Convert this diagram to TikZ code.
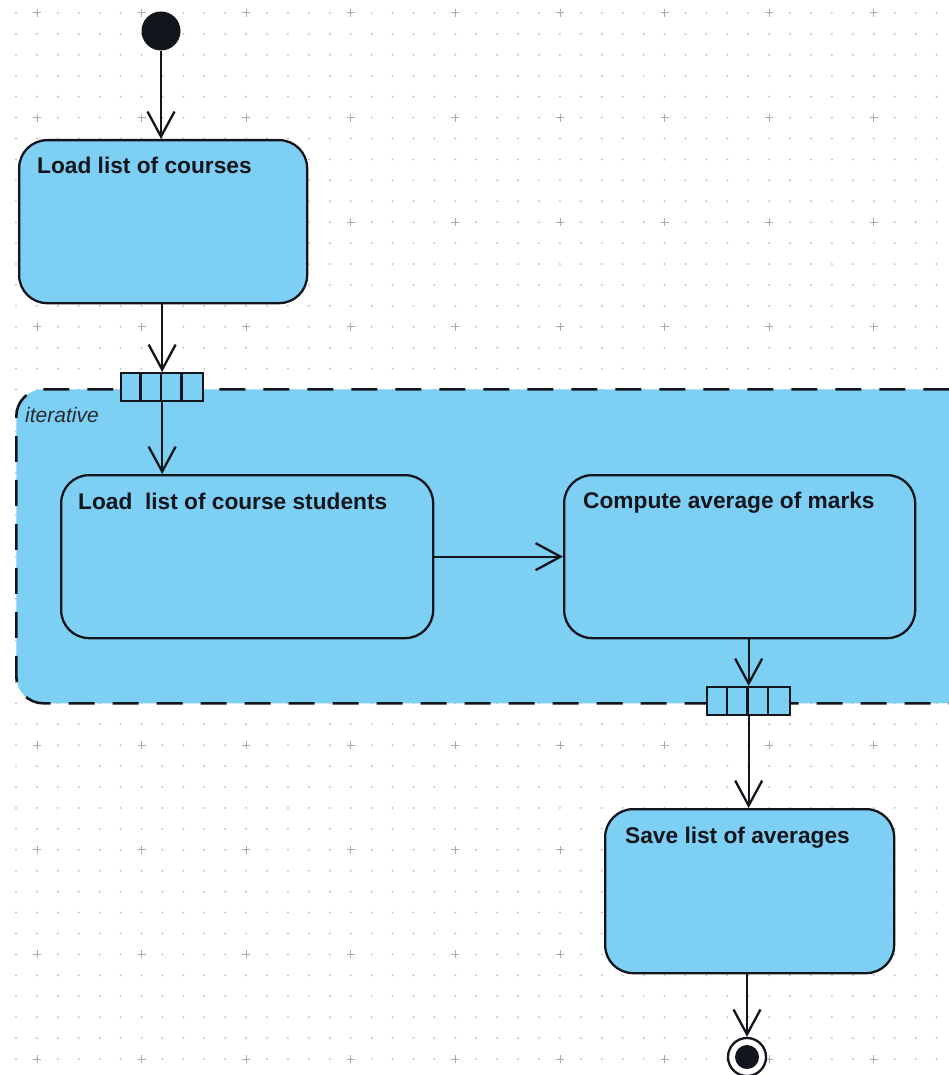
\documentclass[tikz,border=0pt]{standalone}
\usepackage{fontspec}
\setmainfont{Liberation Sans}
\usetikzlibrary{arrows.meta,calc}
\definecolor{actfill}{RGB}{125,207,243}
\definecolor{ink}{RGB}{18,22,28}
\definecolor{griddot}{RGB}{196,196,196}
\definecolor{gridcross}{RGB}{170,170,170}
\definecolor{labelgray}{RGB}{40,44,50}

\begin{document}
\begin{tikzpicture}[x=1pt,y=-1pt,
  action/.style={draw=ink, fill=actfill, line width=2.3pt, rounded corners=28pt,
                 anchor=north west, inner sep=0pt, rectangle},
  atext/.style={anchor=base west, inner sep=0pt, text=ink,
                font=\fontsize{22.7}{26}\selectfont\bfseries},
  pinbox/.style={draw=ink, fill=actfill, line width=2.3pt, anchor=north west,
                 inner sep=0pt, rectangle},
  region/.style={draw=ink, fill=actfill, line width=2.6pt, rounded corners=27pt,
                 dash pattern=on 26pt off 18pt, anchor=north west, inner sep=0pt, rectangle},
  conn/.style={draw=ink, line width=2.3pt, -{Straight Barb[length=25pt,width=27pt,line width=2.3pt]}},
  divider/.style={draw=ink, line width=2.3pt},
]
\clip (0,0) rectangle (949,1075);
\fill[white] (0,0) rectangle (949,1075);

% dotted background grid with crosses every fifth dot
\foreach \i in {0,...,45}
  \foreach \j in {0,...,51}
    \fill[griddot] ({16+20.92*\i},{13+20.92*\j}) circle (1.1);
\foreach \i in {0,...,8}
  \foreach \j in {0,...,10}
    \draw[gridcross, line width=1pt]
      ({37+104.6*\i-4},{13+104.6*\j}) -- ++(8,0)
      ({37+104.6*\i},{13+104.6*\j-4}) -- ++(0,8);

% iterative expansion region
\node[region, minimum width=960pt, minimum height=314pt] (loop) at (15,388) {};
\node[anchor=base west, inner sep=0pt, text=labelgray,
      font=\fontsize{21}{24}\selectfont\itshape] (looplbl) at (25,422) {iterative};

% initial node
\node[circle, fill=ink, minimum size=39pt, inner sep=0pt] (start) at (161,31) {};

% actions
\node[action, minimum width=288pt, minimum height=163pt] (b1) at (18,139) {};
\node[atext] (t1) at ($(b1.north west)+(19,35)$) {Load list of courses};

\node[action, minimum width=372pt, minimum height=163pt] (b2) at (60,474) {};
\node[atext] (t2) at ($(b2.north west)+(18,35)$) {Load\ \ list of course students};

\node[action, minimum width=351pt, minimum height=163pt] (b3) at (563,474) {};
\node[atext] (t3) at ($(b3.north west)+(20,34)$) {Compute average of marks};

\node[action, minimum width=289pt, minimum height=164pt] (b4) at (604,808) {};
\node[atext] (t4) at ($(b4.north west)+(21,35)$) {Save list of averages};

% input and output expansion pins
\node[pinbox, minimum width=82pt, minimum height=28pt] (p1) at (120,372) {};
\foreach \k in {1,2,3}
  \draw[divider] ($(p1.north west)+(20.5*\k,0)$) -- ($(p1.south west)+(20.5*\k,0)$);
\node[pinbox, minimum width=83pt, minimum height=28pt] (p2) at (706,686) {};
\foreach \k in {1,2,3}
  \draw[divider] ($(p2.north west)+(20.75*\k,0)$) -- ($(p2.south west)+(20.75*\k,0)$);

% final node
\node[circle, draw=ink, line width=2.3pt, fill=white, minimum size=38pt, inner sep=0pt] (fin) at (747,1057) {};
\node[circle, fill=ink, minimum size=24pt, inner sep=0pt] (finc) at (fin) {};

% control flows
\draw[conn] (start) -- (start |- b1.north);
\draw[conn] (p1 |- b1.south) -- (p1.north);
\draw[conn] (p1.south) -- (p1.south |- b2.north);
\draw[conn] (b2.east) -- (b3.west);
\draw[conn] (p2 |- b3.south) -- (p2.north);
\draw[conn] (p2.south) -- (p2.south |- b4.north);
\draw[conn] (fin |- b4.south) -- (fin.north);
\end{tikzpicture}
\end{document}
